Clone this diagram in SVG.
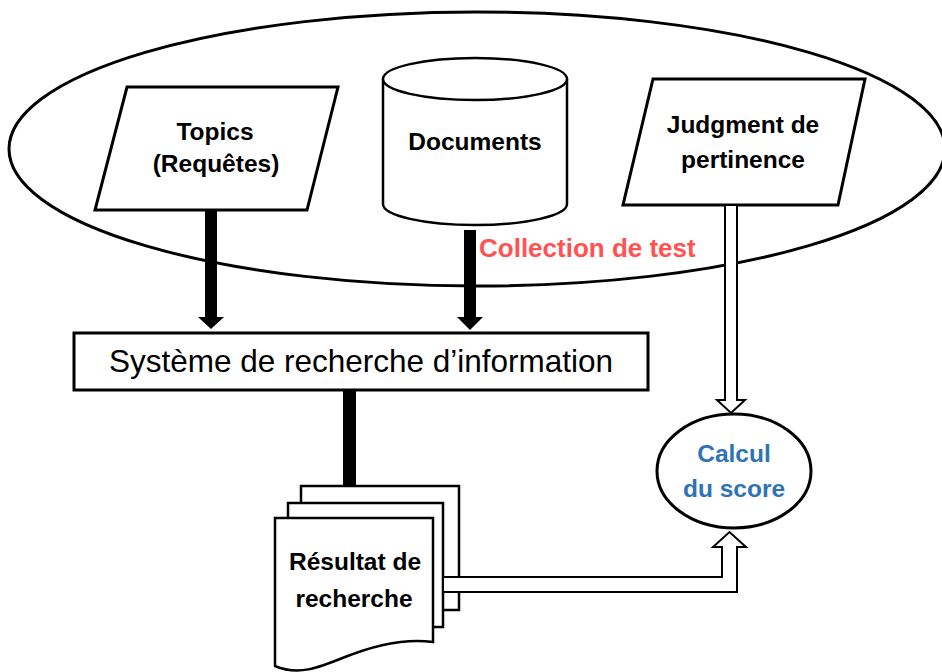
<svg xmlns="http://www.w3.org/2000/svg" width="942" height="672" viewBox="0 0 942 672">
<style>
.bold{font-family:"Liberation Sans",Arial,sans-serif;font-weight:bold;font-size:24.5px;text-anchor:middle;fill:#000}
.shape{fill:#fff;stroke:#000;stroke-width:3}
.thin{fill:#fff;stroke:#000;stroke-width:2.5}
.hollow{fill:#fff;stroke:#000;stroke-width:2;stroke-linejoin:miter}
</style>
<rect width="942" height="672" fill="#fff"/>
<g id="collection">
<ellipse cx="477" cy="149" rx="468" ry="137" fill="none" stroke="#000" stroke-width="3"/>
</g>
<g id="topics">
<polygon class="shape" points="127,87 338,87 307,210 95,210"/>
<text class="bold" x="215" y="140">Topics</text>
<text class="bold" x="216" y="172">(Requêtes)</text>
</g>
<g id="documents">
<path class="thin" d="M383,79 L383,204 A92,21 0 0 0 567,204 L567,79"/>
<ellipse class="thin" cx="475" cy="79" rx="92" ry="21"/>
<text class="bold" x="475" y="150">Documents</text>
</g>
<g id="judgment">
<polygon class="shape" points="653,79 865,79 838,205 623,205"/>
<text class="bold" x="743" y="133">Judgment de</text>
<text class="bold" x="743" y="168">pertinence</text>
</g>
<g id="label-collection">
<text x="479" y="257" style="font-family:'Liberation Sans',Arial,sans-serif;font-weight:bold;font-size:26px;fill:#FF5353">Collection de test</text>
</g>
<g id="sri">
<rect class="shape" x="74" y="333" width="574" height="57"/>
<text x="361" y="372" style="font-family:'Liberation Sans',Arial,sans-serif;font-size:31.5px;text-anchor:middle;fill:#000">Système de recherche d’information</text>
</g>
<g id="resultat">
<rect class="thin" x="301" y="486" width="158" height="124"/>
<rect class="thin" x="288" y="503" width="155" height="124"/>
<path class="thin" d="M275,518 L433,518 L433,642 C405,638 375,645 345,657 C318,668 298,676 275,666 Z"/>
<text class="bold" x="355" y="570">Résultat de</text>
<text class="bold" x="354" y="607">recherche</text>
</g>
<g id="score">
<ellipse class="shape" cx="734" cy="471" rx="77" ry="57"/>
<text class="bold" x="734" y="462" style="fill:#2E74B5">Calcul</text>
<text class="bold" x="734" y="497" style="fill:#2E74B5">du score</text>
</g>
<g id="connectors">
<rect x="205" y="210" width="12" height="108" fill="#000"/>
<polygon points="198,317 224,317 211,329" fill="#000"/>
<rect x="464" y="230" width="12" height="88" fill="#000"/>
<polygon points="457,317 483,317 470,330" fill="#000"/>
<rect x="343" y="390" width="13" height="96" fill="#000"/>
<polygon class="hollow" points="725,205 725,400 717,400 731,413 745,400 737,400 737,205"/>
<polygon class="hollow" points="443,577 722,577 722,547 713,547 729.5,532 746,547 737,547 737,592 443,592"/>
</g>
</svg>
